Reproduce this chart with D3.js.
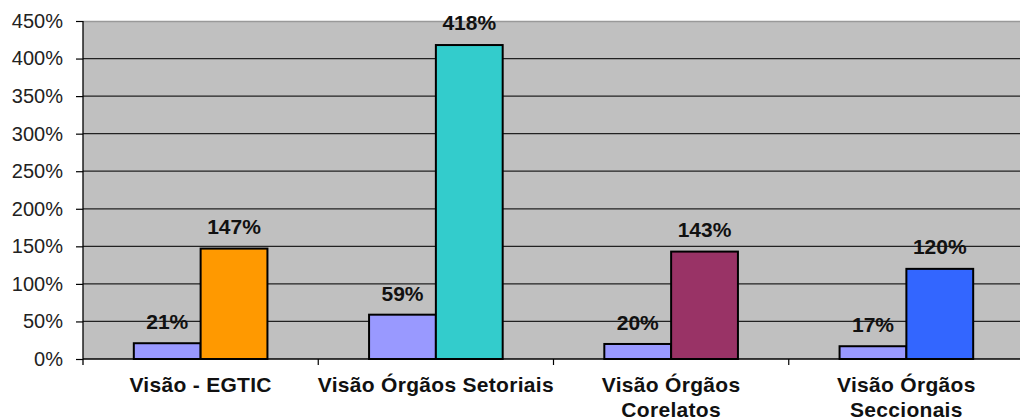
<!DOCTYPE html>
<html>
<head>
<meta charset="utf-8">
<script src="https://cdn.jsdelivr.net/npm/d3@7"></script>
<style>
  body { margin: 0; background: #fff; }
  text { font-family: "Liberation Sans", Arial, sans-serif; }
</style>
</head>
<body>
<svg width="1020" height="420"></svg>
<script>
const categories = [
  ['Visão - EGTIC'],
  ['Visão Órgãos Setoriais'],
  ['Visão Órgãos', 'Corelatos'],
  ['Visão Órgãos', 'Seccionais']
];
const baseValues = [21, 59, 20, 17];
const mainValues = [147, 418, 143, 120];
const mainColors = ['#FF9900', '#33CCCC', '#993366', '#3366FF'];
const baseColor = '#9999FF';
const yTicks = [0, 50, 100, 150, 200, 250, 300, 350, 400, 450];

const svg = d3.select('svg');
const margin = { left: 83, right: -4, top: 21, bottom: 61 };
const width = 1020 - margin.left - margin.right;
const height = 420 - margin.top - margin.bottom;

const g = svg.append('g')
  .attr('transform', `translate(${margin.left},${margin.top})`);

const x = d3.scaleBand()
  .domain(d3.range(categories.length))
  .range([0, width]);

const inner = d3.scaleBand()
  .domain([0, 1])
  .range([x.bandwidth() * 0.216, x.bandwidth() * 0.784]);

const y = d3.scaleLinear().domain([0, 450]).range([height, 0]);

// plot background
g.append('rect')
  .attr('width', width).attr('height', height)
  .attr('fill', '#C0C0C0');

g.append('line')
  .attr('x1', 0).attr('x2', width)
  .attr('y1', 0.5).attr('y2', 0.5)
  .attr('stroke', '#999').attr('stroke-width', 1.5);

// gridlines
g.selectAll('.grid')
  .data(yTicks.filter(d => d > 0 && d < 450))
  .enter().append('line')
    .attr('x1', 0).attr('x2', width)
    .attr('y1', d => y(d)).attr('y2', d => y(d))
    .attr('stroke', '#222').attr('stroke-width', 1.3);

// y axis
const yAxis = g.append('g')
  .call(d3.axisLeft(y).tickValues(yTicks).tickSize(7).tickPadding(13)
    .tickFormat(d => d + '%'));
yAxis.select('.domain').remove();
yAxis.selectAll('line').attr('stroke', '#000').attr('stroke-width', 1.2);
yAxis.selectAll('text')
  .attr('font-size', 20).attr('fill', '#222')
  .style('font-family', '"Liberation Sans", Arial, sans-serif');

g.append('line')
  .attr('x1', 0).attr('x2', 0).attr('y1', 0).attr('y2', height + 6)
  .attr('stroke', '#000').attr('stroke-width', 1.3);

// x axis
g.append('line')
  .attr('x1', 0).attr('x2', width).attr('y1', height).attr('y2', height)
  .attr('stroke', '#000').attr('stroke-width', 1.3);

g.selectAll('.xtick')
  .data(d3.range(1, categories.length))
  .enter().append('line')
    .attr('x1', d => x(d)).attr('x2', d => x(d))
    .attr('y1', height).attr('y2', height + 6)
    .attr('stroke', '#000').attr('stroke-width', 1.2);

const groups = g.selectAll('.grp')
  .data(categories.map((c, i) => ({ c, i, base: baseValues[i], main: mainValues[i], color: mainColors[i] })))
  .enter().append('g')
    .attr('transform', d => `translate(${x(d.i)},0)`);

groups.append('rect')
  .attr('x', inner(0)).attr('width', inner.bandwidth())
  .attr('y', d => y(d.base)).attr('height', d => height - y(d.base))
  .attr('fill', baseColor).attr('stroke', '#000').attr('stroke-width', 2);

groups.append('rect')
  .attr('x', inner(1)).attr('width', inner.bandwidth())
  .attr('y', d => y(d.main)).attr('height', d => height - y(d.main))
  .attr('fill', d => d.color).attr('stroke', '#000').attr('stroke-width', 2);

groups.append('text')
  .attr('x', inner(0) + inner.bandwidth() / 2)
  .attr('y', d => y(d.base) - 14)
  .attr('text-anchor', 'middle')
  .attr('font-size', 21).attr('font-weight', 'bold').attr('fill', '#111')
  .text(d => d.base + '%');

groups.append('text')
  .attr('x', inner(1) + inner.bandwidth() / 2)
  .attr('y', d => y(d.main) - 15)
  .attr('text-anchor', 'middle')
  .attr('font-size', 21).attr('font-weight', 'bold').attr('fill', '#111')
  .text(d => d.main + '%');

groups.append('text')
  .attr('x', x.bandwidth() / 2)
  .attr('y', height + 33)
  .attr('text-anchor', 'middle')
  .attr('font-size', 21).attr('font-weight', 'bold').attr('fill', '#111')
  .attr('letter-spacing', 0.3)
  .selectAll('tspan')
  .data(d => d.c)
  .enter().append('tspan')
    .attr('x', x.bandwidth() / 2)
    .attr('dy', (d, i) => i === 0 ? 0 : 25)
    .text(d => d);
</script>
</body>
</html>
